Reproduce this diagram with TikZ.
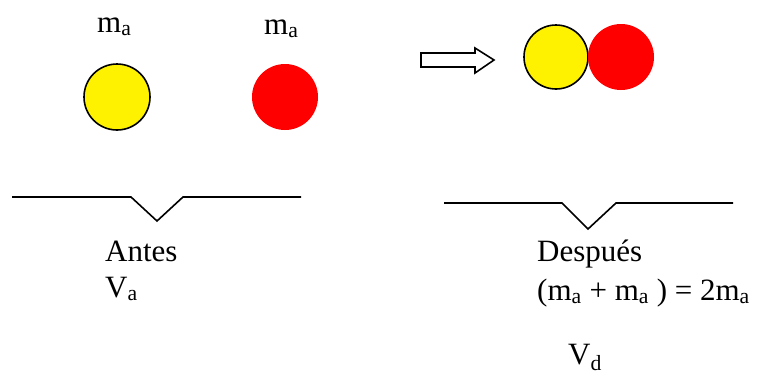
\documentclass[tikz,border=0pt]{standalone}
\usepackage{fontspec}
\setmainfont{Liberation Serif}
\usepackage{tikz}

\begin{document}
\begin{tikzpicture}[
    x=1pt, y=-1pt,
    every node/.style={font=\fontsize{31}{37}\selectfont, inner sep=0pt},
    txt/.style={anchor=base west},
    ball/.style={circle, minimum size=66pt, inner sep=0pt},
    yellowball/.style={ball, draw=black, line width=1.6pt, fill=yellow},
    redball/.style={ball, fill=red},
    floor/.style={line width=1.6pt},
    blockarrow/.style={draw=black, line width=1.6pt, fill=white}
]
\useasboundingbox (0,0) rectangle (765,376);

% Before: the two bodies
\node (massA) [txt] at (97,32) {m\textsubscript{a}};
\node (massB) [txt] at (264,34) {m\textsubscript{a}};
\node (yellowA) [yellowball] at (117,97) {};
\node (redA) [redball] at (285,97) {};

% Arrow between the two states
\draw [blockarrow] (421,53) -- (475,53) -- (475,48) -- (494,60) -- (475,73) -- (475,67) -- (421,67) -- cycle;

% After: the bodies stuck together
\node (yellowB) [yellowball, minimum size=64pt] at (556,57) {};
\node (redB) [redball] at (621,57) {};

% Ground lines with the dip
\draw [floor] (12,197) -- (131,197) -- (157,221) -- (183,197) -- (301,197);
\draw [floor] (444,203) -- (562,203) -- (588,229) -- (616,203) -- (733,203);

% Texts below
\node (before) [txt] at (105,261) {Antes};
\node (speedA) [txt] at (105,297) {V\textsubscript{a}};
\node (after) [txt] at (537,261) {Después};
\node (total) [txt] at (537,300) {(m\textsubscript{a} + m\textsubscript{a} ) = 2m\textsubscript{a}};
\node (speedD) [txt] at (568,364) {V\textsubscript{d}};

\end{tikzpicture}
\end{document}
